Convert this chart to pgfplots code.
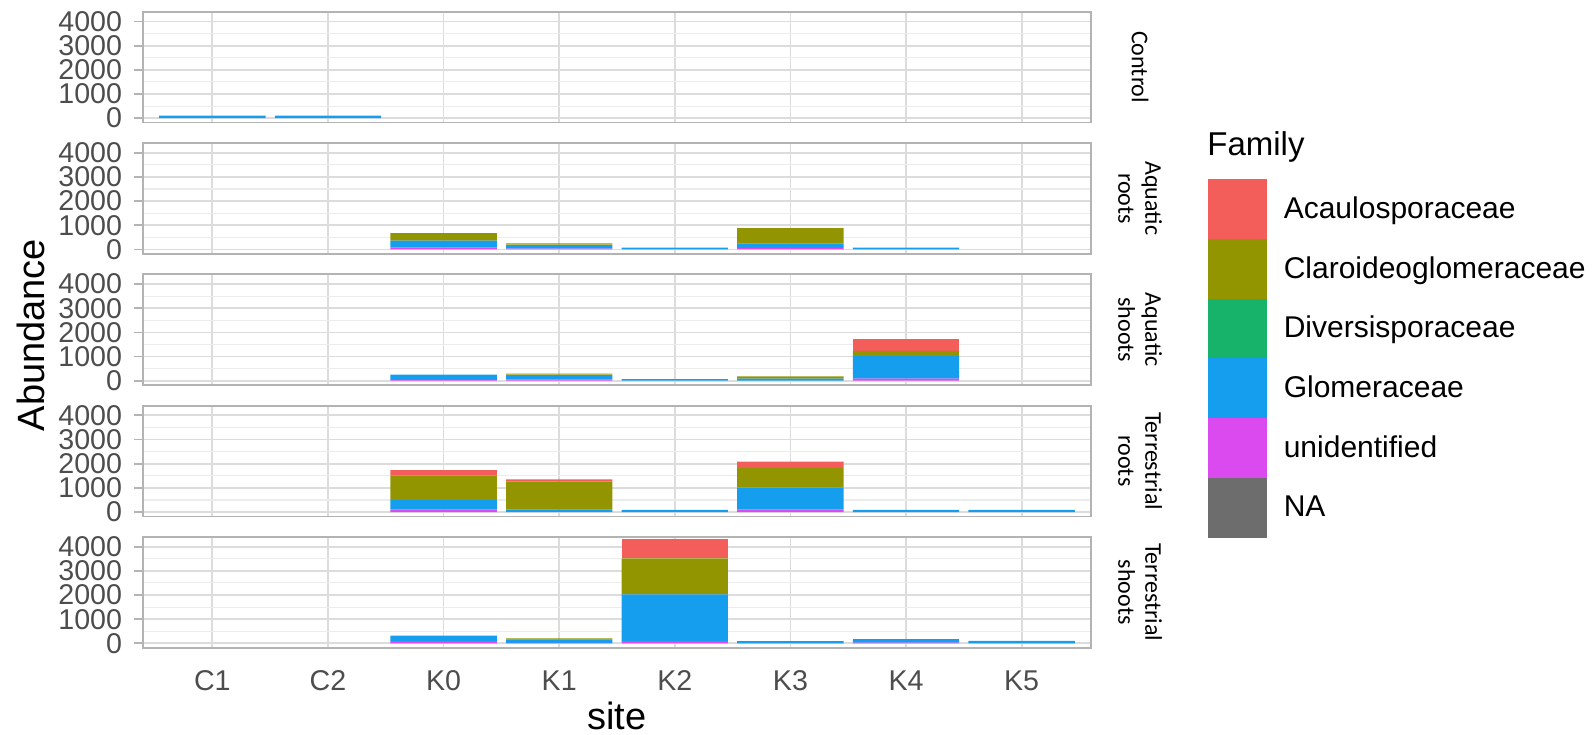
\documentclass[border=0pt]{standalone}
\usepackage{fontspec}
\setmainfont{Liberation Sans}
\newfontfamily\stripfont{Carlito}
\usepackage{pgfplots}
\pgfplotsset{compat=1.18}
\usepackage{pgfplotstable}

\definecolor{cAcau}{HTML}{F35E5A}
\definecolor{cClaro}{HTML}{939500}
\definecolor{cDiv}{HTML}{18B36A}
\definecolor{cGlom}{HTML}{169EEE}
\definecolor{cUnid}{HTML}{DB4AEE}
\definecolor{cNA}{HTML}{6D6D6D}
\definecolor{gridmaj}{HTML}{DCDCDC}
\definecolor{gridmin}{HTML}{ECECEC}
\definecolor{bordercol}{HTML}{B3B3B3}
\definecolor{ticklab}{HTML}{4D4D4D}

% x: 0=C1 1=C2 2=K0 3=K1 4=K2 5=K3 6=K4 7=K5
\pgfplotstableread{
x Unid Glom Div Claro Acau
0 0 100 0 0 0
1 0 100 0 0 0
2 0 0 0 0 0
3 0 0 0 0 0
4 0 0 0 0 0
5 0 0 0 0 0
6 0 0 0 0 0
7 0 0 0 0 0
}\tControl
\pgfplotstableread{
x Unid Glom Div Claro Acau
0 0 0 0 0 0
1 0 0 0 0 0
2 85 275 0 315 0
3 30 150 20 50 0
4 0 80 0 0 0
5 50 200 0 635 0
6 0 80 0 0 0
7 0 0 0 0 0
}\tAqRoots
\pgfplotstableread{
x Unid Glom Div Claro Acau
0 0 0 0 0 0
1 0 0 0 0 0
2 40 210 0 0 0
3 55 180 20 35 0
4 0 70 0 0 0
5 0 85 0 95 0
6 85 935 0 220 485
7 0 0 0 0 0
}\tAqShoots
\pgfplotstableread{
x Unid Glom Div Claro Acau
0 0 0 0 0 0
1 0 0 0 0 0
2 110 386 0 1007 235
3 0 110 0 1145 97
4 0 90 0 0 0
5 110 897 0 814 262
6 0 90 0 0 0
7 0 90 0 0 0
}\tTeRoots
\pgfplotstableread{
x Unid Glom Div Claro Acau
0 0 0 0 0 0
1 0 0 0 0 0
2 97 220 0 0 0
3 20 146 0 41 0
4 97 1931 0 1489 800
5 0 90 0 0 0
6 30 110 20 6 0
7 0 100 0 0 0
}\tTeShoots

\tikzset{strip/.style={rotate=-90, align=center, font=\stripfont\fontsize{12}{13.5}\selectfont}}

\pgfplotsset{
  panel/.style={
    at={(71.5pt,#1)}, anchor=south west,
    scale only axis, width=474pt, height=55.35pt,
    xmin=-0.6, xmax=7.6, ymin=-180, ymax=4400,
    clip=false,
    xtick={0,...,7}, xticklabels={},
    ytick={0,1000,2000,3000,4000},
    yticklabels={0,1000,2000,3000,4000},
    minor ytick={500,1500,2500,3500},
    grid=both,
    major grid style={gridmaj, line width=0.9pt},
    minor grid style={gridmin, line width=0.55pt},
    axis line style={bordercol, line width=0.9pt},
    tick align=outside, tick pos=left,
    major tick length=4.3pt, minor tick length=0pt,
    tick style={bordercol, line width=0.9pt},
    xtick style={draw=none},
    yticklabel style={font=\fontsize{14.3}{14.3}\selectfont, text=ticklab, anchor=east, inner sep=0pt, xshift=-6pt},
    xticklabel style={font=\fontsize{14.3}{14.3}\selectfont, text=ticklab, anchor=north, inner sep=0pt, yshift=-7pt},
    ybar stacked, bar width=0.92,
  },
  bars/.style={forget plot, draw=none, fill=#1},
  fam/.style={legend image code/.code={\fill[#1] (0pt,-14.75pt) rectangle (29pt,14.75pt);}},
}

\newcommand{\stackbars}[1]{%
  \addplot[bars=cUnid] table[x=x,y=Unid]{#1};
  \addplot[bars=cGlom] table[x=x,y=Glom]{#1};
  \addplot[bars=cDiv] table[x=x,y=Div]{#1};
  \addplot[bars=cClaro] table[x=x,y=Claro]{#1};
  \addplot[bars=cAcau] table[x=x,y=Acau]{#1};
}

\begin{document}
\begin{tikzpicture}
\path[use as bounding box] (0pt,0pt) rectangle (797pt,367pt);

% Control
\begin{axis}[panel=305.75pt,
  legend style={at={(1.1234,-0.5104)}, anchor=north west, draw=none, fill=none,
    inner sep=0pt, outer sep=0pt, row sep=0pt, column sep=6.5pt,
    font=\fontsize{15}{15}\selectfont},
  legend cell align=left]
\stackbars{\tControl}
\addlegendimage{fam=cAcau}\addlegendentry{Acaulosporaceae}
\addlegendimage{fam=cClaro}\addlegendentry{Claroideoglomeraceae}
\addlegendimage{fam=cDiv}\addlegendentry{Diversisporaceae}
\addlegendimage{fam=cGlom}\addlegendentry{Glomeraceae}
\addlegendimage{fam=cUnid}\addlegendentry{unidentified}
\addlegendimage{fam=cNA}\addlegendentry{NA}
\node[strip] at ([xshift=24.5pt]rel axis cs:1,0.5) {Control};
\end{axis}

% Aquatic roots
\begin{axis}[panel=240.1pt]
\stackbars{\tAqRoots}
\node[strip] at ([xshift=24.5pt]rel axis cs:1,0.5) {Aquatic\\roots};
\end{axis}

% Aquatic shoots
\begin{axis}[panel=174.45pt]
\stackbars{\tAqShoots}
\node[strip] at ([xshift=24.5pt]rel axis cs:1,0.5) {Aquatic\\shoots};
\end{axis}

% Terrestrial roots
\begin{axis}[panel=108.8pt]
\stackbars{\tTeRoots}
\node[strip] at ([xshift=24.5pt]rel axis cs:1,0.5) {Terrestrial\\roots};
\end{axis}

% Terrestrial shoots
\begin{axis}[panel=43.15pt,
  xticklabels={C1,C2,K0,K1,K2,K3,K4,K5},
  xtick style={bordercol, line width=0.9pt}]
\stackbars{\tTeShoots}
\node[strip] at ([xshift=24.5pt]rel axis cs:1,0.5) {Terrestrial\\shoots};
\end{axis}

% titles
\node[rotate=90, font=\fontsize{19}{19}\selectfont] at (15.25pt,199.5pt) {Abundance};
\node[anchor=base, inner sep=0pt, font=\fontsize{19}{19}\selectfont] at (308.5pt,2.5pt) {site};
\node[anchor=west, inner sep=0pt, font=\fontsize{16.5}{16.5}\selectfont] at (603.5pt,293.5pt) {Family};
\end{tikzpicture}
\end{document}
